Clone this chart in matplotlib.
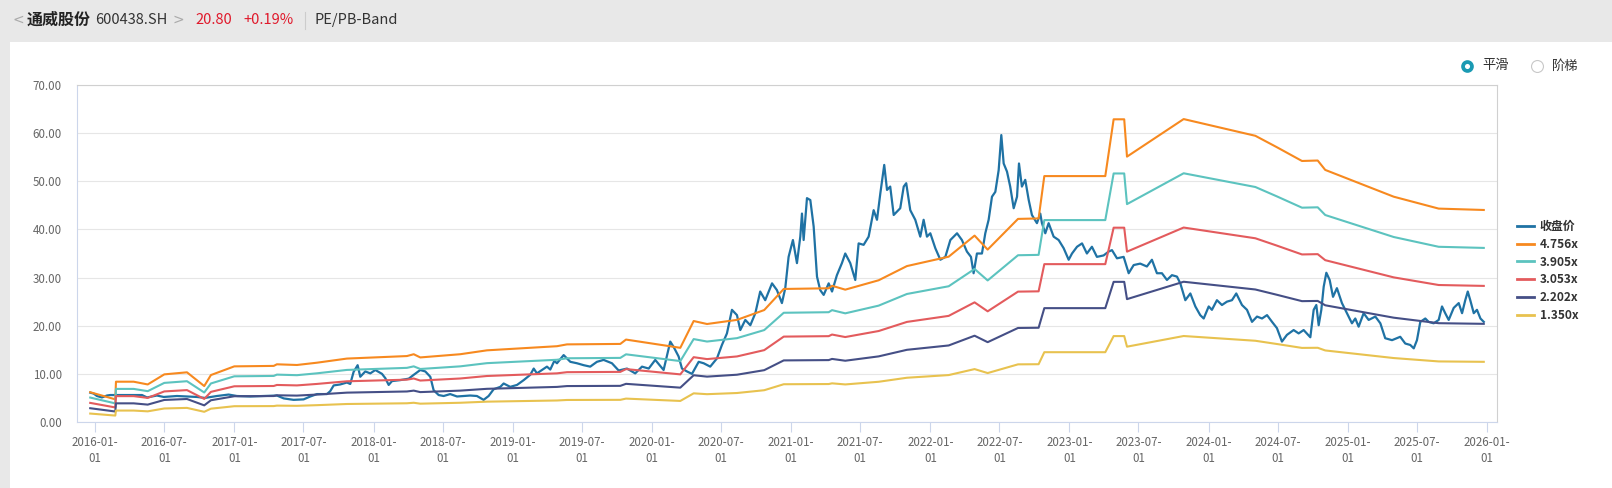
import numpy as np
import pandas as pd
import matplotlib
matplotlib.use("Agg")
import matplotlib.pyplot as plt
import matplotlib.dates as mdates
from matplotlib.patches import Rectangle
from matplotlib.lines import Line2D

plt.rcParams['font.family'] = ['Noto Sans CJK SC', 'DejaVu Sans']

# ---- data (times are decimal years) ----
multiples = [4.756, 3.905, 3.053, 2.202, 1.350]
band_labels = ['4.756x', '3.905x', '3.053x', '2.202x', '1.350x']
band_colors = ['#f7891f', '#5cc3bf', '#e35b5d', '#454f86', '#e8c24f']
price_color = '#1f72a4'

eps_t = [2015.966, 2016.146, 2016.151, 2016.278, 2016.379, 2016.498, 2016.661, 2016.785, 2016.833, 2017.001,
         2017.284, 2017.307, 2017.451, 2017.595, 2017.810, 2018.241, 2018.290, 2018.337, 2018.624, 2018.816,
         2019.319, 2019.391, 2019.774, 2019.815, 2020.205, 2020.301, 2020.397, 2020.612, 2020.808, 2020.948,
         2021.271, 2021.295, 2021.390, 2021.630, 2021.833, 2022.133, 2022.319, 2022.413, 2022.631, 2022.779,
         2022.820, 2023.258, 2023.318, 2023.394, 2023.414, 2023.821, 2024.336, 2024.491, 2024.671, 2024.784,
         2024.838, 2025.330, 2025.653, 2025.977]
eps = [1.30, 0.99, 1.76, 1.76, 1.64, 2.08, 2.17, 1.57, 2.05, 2.43,
       2.45, 2.52, 2.49, 2.59, 2.77, 2.88, 2.96, 2.82, 2.96, 3.13,
       3.31, 3.39, 3.41, 3.60, 3.24, 4.41, 4.28, 4.46, 4.89, 5.81,
       5.84, 5.95, 5.78, 6.19, 6.81, 7.22, 8.14, 7.53, 8.87, 8.89,
       10.74, 10.74, 13.22, 13.22, 11.59, 13.23, 12.50, 12.00, 11.40, 11.42,
       11.01, 9.84, 9.32, 9.26]

price_t = [2015.966, 2015.991, 2016.014, 2016.050, 2016.086, 2016.110, 2016.230, 2016.338, 2016.374, 2016.445,
           2016.494, 2016.589, 2016.661, 2016.733, 2016.790, 2016.876, 2016.960, 2017.020, 2017.116, 2017.212,
           2017.307, 2017.356, 2017.427, 2017.499, 2017.547, 2017.595, 2017.667, 2017.690, 2017.715, 2017.762,
           2017.810, 2017.834, 2017.858, 2017.887, 2017.906, 2017.942, 2017.978, 2018.014, 2018.062, 2018.086,
           2018.110, 2018.134, 2018.193, 2018.254, 2018.290, 2018.337, 2018.373, 2018.409, 2018.433, 2018.469,
           2018.505, 2018.552, 2018.601, 2018.649, 2018.696, 2018.744, 2018.792, 2018.828, 2018.864, 2018.912,
           2018.936, 2018.983, 2019.032, 2019.080, 2019.127, 2019.152, 2019.175, 2019.247, 2019.271, 2019.300,
           2019.319, 2019.367, 2019.415, 2019.463, 2019.511, 2019.558, 2019.606, 2019.654, 2019.714, 2019.762,
           2019.822, 2019.881, 2019.930, 2019.978, 2020.025, 2020.085, 2020.133, 2020.157, 2020.193, 2020.217,
           2020.253, 2020.289, 2020.337, 2020.373, 2020.420, 2020.468, 2020.504, 2020.540, 2020.576, 2020.612,
           2020.636, 2020.672, 2020.708, 2020.744, 2020.779, 2020.815, 2020.864, 2020.899, 2020.935, 2020.959,
           2020.983, 2021.014, 2021.043, 2021.067, 2021.079, 2021.091, 2021.115, 2021.139, 2021.163, 2021.187,
           2021.210, 2021.235, 2021.271, 2021.295, 2021.330, 2021.366, 2021.390, 2021.426, 2021.462, 2021.486,
           2021.522, 2021.558, 2021.594, 2021.618, 2021.642, 2021.670, 2021.690, 2021.713, 2021.738, 2021.785,
           2021.810, 2021.828, 2021.857, 2021.893, 2021.929, 2021.953, 2021.977, 2022.001, 2022.037, 2022.073,
           2022.109, 2022.145, 2022.193, 2022.228, 2022.264, 2022.293, 2022.312, 2022.336, 2022.372, 2022.396,
           2022.420, 2022.444, 2022.468, 2022.492, 2022.511, 2022.528, 2022.552, 2022.575, 2022.600, 2022.624,
           2022.638, 2022.659, 2022.683, 2022.708, 2022.731, 2022.767, 2022.791, 2022.803, 2022.827, 2022.851,
           2022.887, 2022.923, 2022.959, 2022.995, 2023.019, 2023.055, 2023.091, 2023.126, 2023.162, 2023.198,
           2023.246, 2023.282, 2023.306, 2023.342, 2023.390, 2023.426, 2023.462, 2023.509, 2023.557, 2023.593,
           2023.629, 2023.665, 2023.701, 2023.737, 2023.773, 2023.797, 2023.833, 2023.869, 2023.905, 2023.940,
           2023.965, 2024.001, 2024.024, 2024.060, 2024.096, 2024.132, 2024.168, 2024.199, 2024.240, 2024.276,
           2024.312, 2024.348, 2024.384, 2024.420, 2024.456, 2024.491, 2024.527, 2024.563, 2024.611, 2024.647,
           2024.683, 2024.731, 2024.755, 2024.774, 2024.791, 2024.810, 2024.827, 2024.846, 2024.870, 2024.894,
           2024.922, 2024.958, 2024.994, 2025.030, 2025.054, 2025.078, 2025.114, 2025.150, 2025.198, 2025.234,
           2025.269, 2025.318, 2025.377, 2025.413, 2025.449, 2025.474, 2025.497, 2025.521, 2025.557, 2025.581,
           2025.617, 2025.653, 2025.677, 2025.700, 2025.725, 2025.761, 2025.797, 2025.821, 2025.844, 2025.862,
           2025.880, 2025.905, 2025.928, 2025.953, 2025.977]
price = [6.1, 5.9, 5.4, 5.1, 5.5, 5.6, 5.6, 5.6, 5.1, 5.5,
         5.2, 5.4, 5.3, 5.2, 5.0, 5.4, 5.7, 5.4, 5.3, 5.4,
         5.5, 4.9, 4.6, 4.7, 5.3, 5.8, 5.8, 6.4, 7.6, 7.8,
         8.2, 7.9, 10.4, 11.8, 9.4, 10.5, 10.1, 10.8, 10.0, 9.1,
         7.7, 8.5, 8.7, 9.0, 9.8, 10.8, 10.5, 9.4, 6.6, 5.6,
         5.4, 5.8, 5.3, 5.4, 5.5, 5.4, 4.6, 5.4, 6.8, 7.3,
         8.0, 7.3, 7.7, 8.7, 9.8, 11.1, 10.1, 11.5, 10.9, 12.7,
         12.2, 13.9, 12.5, 12.2, 11.8, 11.5, 12.5, 12.9, 12.2, 10.7,
         11.1, 10.1, 11.5, 11.1, 12.9, 10.8, 16.7, 15.6, 13.6, 11.1,
         10.5, 10.0, 12.5, 12.2, 11.5, 13.2, 16.0, 18.4, 23.3, 22.2,
         19.1, 21.2, 20.1, 22.6, 27.1, 25.3, 28.8, 27.4, 24.7, 27.8,
         34.3, 37.8, 33.0, 38.5, 43.3, 37.8, 46.5, 46.1, 40.6, 30.2,
         27.4, 26.4, 28.8, 27.1, 30.5, 33.0, 35.0, 33.0, 29.5, 37.1,
         36.8, 38.5, 44.0, 42.0, 47.5, 53.4, 48.2, 48.9, 43.0, 44.4,
         48.9, 49.6, 44.0, 42.0, 38.5, 42.0, 38.5, 39.2, 36.1, 33.7,
         34.3, 37.8, 39.2, 37.8, 35.4, 34.3, 30.9, 35.0, 35.0, 39.2,
         42.0, 46.8, 47.8, 52.3, 59.6, 53.7, 52.0, 48.9, 44.4, 46.8,
         53.7, 48.9, 50.3, 46.1, 43.0, 41.3, 43.3, 41.3, 39.2, 41.3,
         38.5, 37.8, 36.1, 33.7, 35.0, 36.4, 37.1, 35.0, 36.4, 34.3,
         34.6, 35.4, 35.7, 34.0, 34.3, 30.9, 32.6, 32.9, 32.3, 33.7,
         30.9, 30.9, 29.5, 30.5, 30.2, 28.8, 25.3, 26.7, 24.0, 22.2,
         21.5, 24.0, 23.3, 25.3, 24.3, 25.0, 25.3, 26.7, 24.3, 23.3,
         20.8, 21.9, 21.5, 22.2, 20.8, 19.5, 16.7, 18.1, 19.1, 18.4,
         19.1, 17.6, 23.3, 24.3, 20.1, 23.3, 28.1, 31.0, 29.5, 26.0,
         27.8, 24.7, 22.6, 20.5, 21.5, 19.8, 22.6, 21.2, 21.9, 20.5,
         17.4, 17.0, 17.7, 16.3, 16.0, 15.3, 17.0, 20.8, 21.5, 20.8,
         20.5, 21.2, 24.0, 22.6, 21.2, 23.7, 24.7, 22.6, 25.3, 27.1,
         25.3, 22.6, 23.3, 21.5, 20.8]


def to_date(t):
    t = np.asarray(t, dtype=float)
    return pd.Timestamp('2016-01-01') + pd.to_timedelta((t - 2016) * 365.25, unit='D')


W, H = 1612, 488
fig = plt.figure(figsize=(W / 100, H / 100), dpi=100, facecolor='#e8e8e8')

# white card
fig.patches.append(Rectangle((10 / W, 0), 1, (H - 42) / H, transform=fig.transFigure,
                             facecolor='white', edgecolor='none', zorder=-5))

# header
hy = 1 - 20 / H
fig.text(12 / W, hy, '<', color='#aaaaaa', fontsize=10, va='center', family='DejaVu Sans')
fig.text(27 / W, hy, '通威股份', color='#222222', fontsize=11.5, fontweight='bold', va='center')
fig.text(95 / W, hy, '600438.SH', color='#333333', fontsize=10.5, va='center')
fig.text(172 / W, hy, '>', color='#aaaaaa', fontsize=10, va='center', family='DejaVu Sans')
fig.text(195 / W, hy, '20.80', color='#e0192b', fontsize=10.5, va='center')
fig.text(243 / W, hy, '+0.19%', color='#e0192b', fontsize=10.5, va='center')
fig.add_artist(Line2D([305 / W, 305 / W], [1 - 12 / H, 1 - 29 / H], transform=fig.transFigure,
                      color='#cccccc', lw=0.8))
fig.text(315 / W, hy, 'PE/PB-Band', color='#333333', fontsize=10.5, va='center')

# radio buttons
ry = 1 - 66 / H
fig.add_artist(Line2D([1467 / W], [ry], transform=fig.transFigure, marker='o', markersize=6.4,
                      markerfacecolor='white', markeredgecolor='#1a9ab3', markeredgewidth=2.7))
fig.text(1482 / W, ry, '平滑', color='#333333', fontsize=9.5, va='center')
fig.add_artist(Line2D([1537 / W], [ry], transform=fig.transFigure, marker='o', markersize=8.6,
                      markerfacecolor='white', markeredgecolor='#c8c8c8', markeredgewidth=0.8))
fig.text(1552 / W, ry, '阶梯', color='#333333', fontsize=9.5, va='center')

# plot area
ax = fig.add_axes([77 / W, (H - 422) / H, 1420 / W, 337 / H])
ax.set_facecolor('white')

pdates = to_date(price_t)
ax.plot(pdates, price, color=price_color, lw=1.6, label='收盘价', zorder=3)
edates = to_date(eps_t)
for m, lab, c in zip(multiples, band_labels, band_colors):
    ax.plot(edates, np.array(eps) * m, color=c, lw=1.5, label=lab, zorder=4)

ax.set_ylim(0, 70)
ax.set_yticks(np.arange(0, 71, 10))
ax.yaxis.set_major_formatter(plt.FuncFormatter(lambda v, p: f'{v:.2f}'))
ax.set_xlim(to_date([2015.871])[0], to_date([2026.072])[0])
ax.xaxis.set_major_locator(mdates.MonthLocator(bymonth=[1, 7], bymonthday=1))
ax.xaxis.set_major_formatter(mdates.DateFormatter('%Y-%m-\n%d'))

ax.grid(axis='y', color='#e6e6e6', lw=0.8)
ax.set_axisbelow(True)
ax.tick_params(axis='y', length=0, pad=11, labelsize=8.3, labelcolor='#666666')
ax.tick_params(axis='x', length=7, width=0.8, color='#ccd6eb', pad=3, labelsize=8.3,
               labelcolor='#666666')
for lbl in ax.get_xticklabels():
    lbl.set_linespacing(1.3)
for s in ['left', 'bottom']:
    ax.spines[s].set_color('#ccd6eb')
for s in ['top', 'right']:
    ax.spines[s].set_color('#d0d0d0')
for s in ax.spines.values():
    s.set_linewidth(0.8)

leg = ax.legend(loc='upper left', bbox_to_anchor=(1517 / W, 1 - 220 / H), bbox_transform=fig.transFigure,
                frameon=False, borderpad=0, borderaxespad=0, handlelength=1.4, handletextpad=0.5,
                labelspacing=0.4, prop={'size': 8.6, 'weight': 'bold'})
for t in leg.get_texts():
    t.set_color('#333333')
for l in leg.get_lines():
    l.set_linewidth(2)

fig.savefig('out.png', dpi=100, facecolor=fig.get_facecolor())
